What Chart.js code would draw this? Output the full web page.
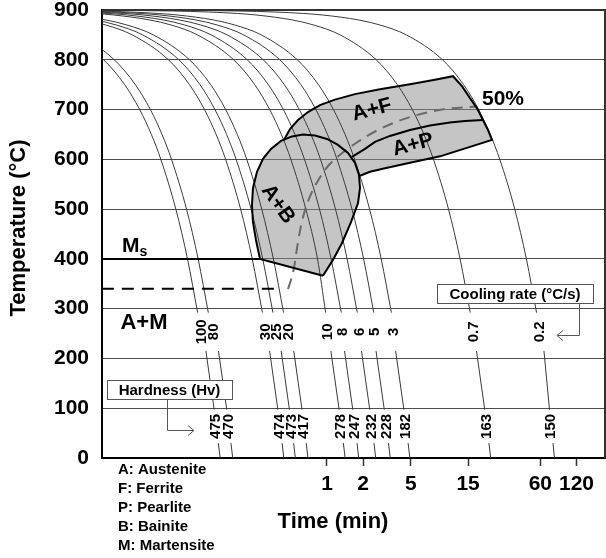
<!DOCTYPE html>
<html><head><meta charset="utf-8">
<script src="https://cdn.jsdelivr.net/npm/chart.js@4.4.0/dist/chart.umd.min.js"></script>
<style>html,body{margin:0;padding:0;background:#fff}#wrap{width:606px;height:558px}</style>
</head><body><div id="wrap"><canvas id="c" width="606" height="558"></canvas></div>
<script>
// ---------- DATA ----------
const coolingRates = ['100','80','30','25','20','10','8','6','5','3','0.7','0.2'];
const hardness = ['475','470','474','473','417','278','247','232','228','182','163','150'];
const xTickValues = [1, 2, 5, 15, 60, 120];
const yTickStep = 100;

// temperatures (°C) for the three visible segments of each cooling curve
const upperTemps = [899.9,899.5,899,898,896,893,890,880,870,850,800,750,700,650,600,500,400,292];
const lowerTemps = [215, 97];
const bottomTemps = [30, 0];

// times (min) read for each curve
const upper_100 = [0.0000138,0.0000688,0.0001375,0.000275,0.00055,0.000963,0.001375,0.00275,0.004125,0.00688,0.01375,0.0206,0.0275,0.0344,0.04125,0.055,0.0688,0.0836];
const upper_80  = [0.0000169,0.0000844,0.000169,0.000338,0.000675,0.00118,0.00169,0.00338,0.00506,0.00844,0.01688,0.0253,0.03375,0.0422,0.0506,0.0675,0.0844,0.1026];
const upper_30  = [0.0000477,0.000238,0.000477,0.000953,0.00191,0.00334,0.00477,0.00953,0.0143,0.0238,0.0477,0.0715,0.0953,0.1192,0.143,0.1907,0.2383,0.2898];
const upper_25  = [0.0000583,0.000291,0.000583,0.00117,0.00233,0.00408,0.00583,0.01165,0.01748,0.0291,0.0583,0.0874,0.1165,0.1457,0.1748,0.2331,0.2914,0.3543];
const upper_20  = [0.0000715,0.000358,0.000715,0.00143,0.00286,0.00501,0.00715,0.0143,0.02145,0.03575,0.0715,0.1073,0.143,0.1788,0.2145,0.286,0.3575,0.4347];
const upper_10  = [0.000167,0.000833,0.001667,0.00333,0.00667,0.01167,0.01667,0.0333,0.05,0.0833,0.1667,0.25,0.333,0.4167,0.5,0.6667,0.8333,0.9748];
const upper_8   = [0.000217,0.00108,0.002165,0.00433,0.00866,0.01515,0.02165,0.0433,0.06494,0.1082,0.2165,0.3247,0.433,0.541,0.6494,0.866,1.082,1.316];
const upper_6   = [0.000294,0.00147,0.00294,0.00588,0.01177,0.0206,0.02942,0.0588,0.0883,0.1471,0.2942,0.4413,0.5883,0.7354,0.8825,1.177,1.471,1.789];
const upper_5   = [0.000404,0.00202,0.00404,0.00808,0.01616,0.02828,0.0404,0.0808,0.1212,0.202,0.404,0.606,0.808,1.01,1.212,1.616,2.02,2.456];
const upper_3   = [0.000566,0.00283,0.00566,0.01132,0.02264,0.03963,0.05661,0.1132,0.1698,0.283,0.5661,0.849,1.132,1.415,1.698,2.264,2.83,3.442];
const upper_07  = [0.00257,0.01286,0.02571,0.05143,0.1029,0.18,0.2571,0.5143,0.7714,1.286,2.571,3.857,5.143,6.429,7.714,10.29,12.86,15.63];
const upper_02  = [0.00918,0.0459,0.0918,0.1835,0.367,0.642,0.9175,1.835,2.753,4.588,9.175,13.76,18.35,22.94,27.53,36.7,45.88,55.78];

const lower_all  = [[0.0980,0.1148],[0.1247,0.1462],[0.3326,0.3899],[0.4151,0.4866],[0.5286,0.6197],[1.0775,1.263],[1.400,1.641],[1.939,2.273],[2.562,3.003],[3.733,4.376],[17.61,20.65],[64.3,71.5]];
const bottom_all = [[0.1244,0.1287],[0.1584,0.1639],[0.4225,0.437],[0.5272,0.5454],[0.6714,0.6945],[1.369,1.416],[1.778,1.839],[2.463,2.548],[3.254,3.366],[4.742,4.905],[22.37,23.14],[76.4,78.7]];
const upper_all = [upper_100,upper_80,upper_30,upper_25,upper_20,upper_10,upper_8,upper_6,upper_5,upper_3,upper_07,upper_02];

// transformation regions (time min, temperature °C)
const abTimes = [0.926,0.2765,0.256,0.2416,0.2371,0.2416,0.2611,0.2929,0.3415,0.4138,0.5109,0.631,0.794,1.0,1.235,1.496,1.711,1.848,1.884,1.813,1.585,1.334,1.122];
const abTemps = [366,400,438,474,508,542,575,601,621,637,646,650,648,641,629,613,593,569,542,512,474,432,398];
const fpTimes = [0.4383,0.4916,0.5735,0.6944,0.8743,1.166,1.711,2.765,4.916,7.943,11.22,13.34,15.55,17.78,19.95,21.96,23.71,15.55,8.744,4.916,3.043,2.282,1.884];
const fpTemps = [639,661,679,695,709,720,731,741,751,760,767,747,723,703,679,659,639,625,606,593,582,575,567];
const sepTimes = [19.95,14.13,10.59,7.217,4.916,3.35,2.512,2.073,1.616];
const sepTemps = [679,677,674,668,659,647,635,621,605];
const halfTimes = [0.4732,0.5012,0.5309,0.5516,0.5735,0.6072,0.6558,0.7356,0.8577,1.039,1.308,1.744,2.765,4.916,9.624,17.78];
const halfTemps = [339.5,357.6,381.7,407.8,434,466,498,530,560.5,588.6,610.7,632.8,661,685,701,706];
const msTemp = 400;
const msTimes = [0.0133, 0.2765];
const mfTemp = 340;
const mfTimes = [0.0133, 0.406];

// ---------- BUILD ----------
const pts = (ts, Ts) => ts.map((t,i)=>({x:t, y:Ts[i]}));
const curveColor = '#3a3a3a';
const datasets = [];

const abOutline = pts(abTimes, abTemps); abOutline.push(abOutline[0]);
datasets.push({data: abOutline, borderColor:'#000', borderWidth:2, fill:false, tension:0, pointRadius:0, order:0});
datasets.push({data: pts(fpTimes, fpTemps), borderColor:'#000', borderWidth:2, fill:false, tension:0, pointRadius:0, order:0});
datasets.push({data: pts(sepTimes, sepTemps), borderColor:'#000', borderWidth:2, fill:false, tension:0, pointRadius:0, order:0});
datasets.push({data: pts(halfTimes, halfTemps), borderColor:'#6a6a6a', borderWidth:2, borderDash:[11,7], fill:false, cubicInterpolationMode:'monotone', pointRadius:0, order:1});
datasets.push({data: msTimes.map(t=>({x:t,y:msTemp})), borderColor:'#000', borderWidth:2, pointRadius:0, order:0});
datasets.push({data: mfTimes.map(t=>({x:t,y:mfTemp})), borderColor:'#000', borderWidth:2, borderDash:[12,8], pointRadius:0, order:0});

upper_all.forEach((up, i) => {
  const d = pts(up, upperTemps);
  d.push({x: Math.sqrt(up[up.length-1]*lower_all[i][0]), y: null});
  lower_all[i].forEach((t,k)=>d.push({x:t, y:lowerTemps[k]}));
  d.push({x: Math.sqrt(lower_all[i][1]*bottom_all[i][0]), y: null});
  bottom_all[i].forEach((t,k)=>d.push({x:t, y:bottomTemps[k]}));
  datasets.push({data:d, borderColor:curveColor, borderWidth:1, pointRadius:0, fill:false, cubicInterpolationMode:'monotone', spanGaps:false, order:5});
});

const unionPts = pts(abTimes.slice(1,10), abTemps.slice(1,10))
  .concat(pts(fpTimes, fpTemps))
  .concat(pts(abTimes.slice(18), abTemps.slice(18)))
  .concat([{x:abTimes[0], y:abTemps[0]}]);
datasets.push({data: unionPts, borderWidth:0, borderColor:'rgba(0,0,0,0)', backgroundColor:'rgba(140,140,140,0.5)', fill:'shape', tension:0, pointRadius:0, order:10});

const FONT = '"Liberation Sans", Arial, sans-serif';

const annot = {
  id: 'annot',
  afterDatasetsDraw(chart) {
    const {ctx, chartArea:a, scales:{x:X, y:Y}} = chart;
    const px = t => X.getPixelForValue(t), py = T => Y.getPixelForValue(T);
    ctx.save();
    ctx.strokeStyle = '#333'; ctx.lineWidth = 2;
    ctx.beginPath(); ctx.moveTo(a.left, a.top); ctx.lineTo(a.right, a.top); ctx.lineTo(a.right, a.bottom); ctx.stroke();

    ctx.fillStyle = '#000';
    ctx.textAlign = 'center'; ctx.textBaseline = 'middle';
    const rot = (txt, x, y, ang, font) => {
      ctx.save(); ctx.translate(x, y); ctx.rotate(ang); ctx.font = font; ctx.fillText(txt, 0, 0); ctx.restore();
    };
    const small = 'bold 15px ' + FONT;
    upper_all.forEach((up, i) => {
      const tc = Math.sqrt(up[up.length-1]*lower_all[i][0]);
      const Tc = (upperTemps[upperTemps.length-1] + lowerTemps[0]) / 2;
      rot(coolingRates[i], px(tc), py(Tc), -Math.PI/2, small);
      const th = Math.sqrt(lower_all[i][1]*bottom_all[i][0]);
      const Th = (lowerTemps[1] + bottomTemps[0]) / 2;
      rot(hardness[i], px(th), py(Th), -Math.PI/2, small);
    });

    const box = (t0, t1, T0, T1, txt) => {
      const x0 = px(t0), x1 = px(t1), y0 = py(T0), y1 = py(T1);
      ctx.fillStyle = '#fff'; ctx.fillRect(x0, y0, x1-x0, y1-y0);
      ctx.strokeStyle = '#555'; ctx.lineWidth = 1;
      ctx.strokeRect(Math.round(x0)+0.5, Math.round(y0)+0.5, Math.round(x1-x0), Math.round(y1-y0));
      ctx.fillStyle = '#000'; ctx.font = small; ctx.textAlign='center'; ctx.textBaseline='middle';
      ctx.fillText(txt, (x0+x1)/2, (y0+y1)/2 + 1);
    };
    box(8.254, 164.7, 349.6, 311.4, 'Cooling rate (°C/s)');
    box(0.01468, 0.1616, 156.7, 118.5, 'Hardness (Hv)');
    const arrow = (tA, TA, TB, tC, dir) => {
      const xa = Math.round(px(tA))+0.5, ya = py(TA), yb = Math.round(py(TB))+0.5, xc = px(tC);
      ctx.strokeStyle = '#555'; ctx.lineWidth = 1;
      ctx.beginPath(); ctx.moveTo(xa, ya); ctx.lineTo(xa, yb); ctx.lineTo(xc, yb); ctx.stroke();
      ctx.beginPath(); ctx.moveTo(xc - dir*6, yb - 5); ctx.lineTo(xc, yb); ctx.lineTo(xc - dir*6, yb + 5); ctx.stroke();
    };
    arrow(125.9, 311.4, 247, 82.5, -1);
    arrow(0.0464, 118.5, 56.3, 0.0779, 1);

    const big = 'bold 21px ' + FONT;
    ctx.fillStyle = '#000';
    rot('A+F', px(2.371), py(699), -15*Math.PI/180, big);
    rot('A+P', px(5.21), py(629), -15*Math.PI/180, big);
    rot('A+B', px(0.3906), py(510), 55*Math.PI/180, big);
    ctx.font = 'bold 22px ' + FONT; ctx.textAlign = 'center'; ctx.textBaseline = 'middle';
    ctx.fillText('A+M', px(0.02985), py(271));
    ctx.font = big; ctx.textAlign = 'left';
    ctx.fillText('50%', px(19.57), py(721));
    ctx.fillText('M', px(0.0196), py(426));
    const mw = ctx.measureText('M').width;
    ctx.font = 'bold 14px ' + FONT;
    ctx.fillText('s', px(0.0196) + mw, py(426) + 6);
    ctx.restore();
  },
  afterDraw(chart) {
    const {ctx} = chart;
    ctx.save();
    ctx.fillStyle = '#000';
    ctx.font = 'bold 22px ' + FONT; ctx.textAlign = 'center'; ctx.textBaseline = 'middle';
    ctx.save(); ctx.translate(19, 228); ctx.rotate(-Math.PI/2); ctx.fillText('Temperature (°C)', 0, 0); ctx.restore();
    ctx.fillText('Time (min)', 333, 522);
    ctx.font = 'bold 15px ' + FONT; ctx.textAlign = 'left';
    ['A: Austenite','F: Ferrite','P: Pearlite','B: Bainite','M: Martensite'].forEach((s,i)=>ctx.fillText(s, 118, 470 + i*19));
    ctx.restore();
  }
};

const noPad = s => { s.paddingTop = 0; s.paddingBottom = 0; s.paddingLeft = 0; s.paddingRight = 0; };

new Chart(document.getElementById('c'), {
  type: 'line',
  data: { datasets },
  options: {
    responsive: false, animation: false, devicePixelRatio: 1,
    layout: { padding: { top: 10, right: 1, left: 0, bottom: 0 } },
    plugins: { legend: { display: false }, tooltip: { enabled: false } },
    elements: { point: { radius: 0 } },
    scales: {
      x: {
        type: 'logarithmic', min: 0.01334, max: 207.4,
        afterBuildTicks: s => { s.ticks = xTickValues.map(v => ({ value: v })); },
        afterFit: s => { s.height = 100; noPad(s); },
        ticks: { autoSkip: false, maxRotation: 0, padding: 6, color: '#000',
                 font: { family: FONT, size: 21, weight: 'bold' },
                 callback: v => String(v) },
        grid: { drawOnChartArea: false, drawTicks: true, tickLength: 8, tickColor: '#333', tickWidth: 1.5 },
        border: { display: true, color: '#000', width: 2 }
      },
      y: {
        type: 'linear', min: 0, max: 900,
        afterFit: s => { s.width = 102; noPad(s); },
        ticks: { stepSize: yTickStep, padding: 13, color: '#000',
                 font: { family: FONT, size: 21, weight: 'bold' } },
        grid: { drawTicks: false, color: '#4d4d4d', lineWidth: 1 },
        border: { display: true, color: '#000', width: 2 }
      }
    }
  },
  plugins: [annot]
});
</script>
</body></html>
